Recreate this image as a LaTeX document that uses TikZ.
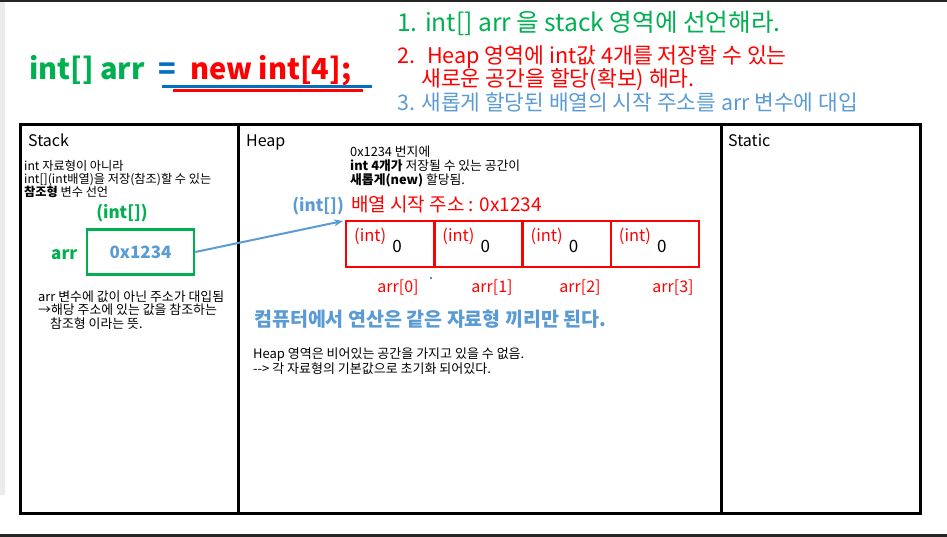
\documentclass[tikz,border=0pt]{standalone}
\usepackage{fontspec}
\setmainfont{Noto Sans CJK KR}
\usetikzlibrary{arrows.meta,positioning}
\definecolor{jgreen}{HTML}{00B050}
\definecolor{jred}{HTML}{FF0000}
\definecolor{jblue}{HTML}{0070C0}
\definecolor{jsky}{HTML}{5B9BD5}

\begin{document}
\begin{tikzpicture}[x=1pt, y=-1pt,
  >={Stealth[length=9pt,width=7pt]},
  txt/.style={inner sep=0pt, anchor=base west, align=left},
  tiny/.style={txt, font=\fontsize{12.8}{14}\selectfont},
  head/.style={txt, font=\fontsize{16}{19}\selectfont},
  area/.style={draw=black, line width=3pt},
  cell/.style={draw=jred, line width=2.5pt, minimum width=88.25pt,
               minimum height=46pt, inner sep=0pt, outer sep=0pt}]

%% lienzo fijo, igual que la captura
\useasboundingbox (0,0) rectangle (947,537);
\fill[black!8] (0,0) rectangle (5,495);
\fill[black!85] (0,0) rectangle (947,2.5);
\fill[black!85] (0,533.5) rectangle (947,537);

%% ---- la sentencia ----
%% ojo: en los nodos de varias líneas el `base' es la última línea
\node[txt, font=\fontsize{29}{30}\selectfont\bfseries, text=jgreen] (decl) at (29,80) {int[] arr};
\node[txt, font=\fontsize{29}{30}\selectfont\bfseries, text=jblue] (eq) at (158,80) {=};
\node[txt, font=\fontsize{29}{30}\selectfont\bfseries, text=jred] (alloc) at (190,80) {new int[4];};
\draw[jblue, line width=3pt] (162,87) -- (372,87);
\draw[jred, line width=3pt] (173,91) -- (363,91);

%% ---- los tres pasos ----
\node[txt, font=\fontsize{24.6}{26}\selectfont, text=jgreen] (step1) at (397,32)
  {1. int[] arr 을 stack 영역에 선언해라.};
\node[txt, font=\fontsize{21.6}{23.5}\selectfont, text=jred] (step2) at (397,87)
  {2.\hspace{12pt}Heap 영역에 int값 4개를 저장할 수 있는\\
   \hspace{24pt}새로운 공간을 할당(확보) 해라.};
\node[txt, font=\fontsize{21.4}{23}\selectfont, text=jsky] (step3) at (397,111)
  {3. 새롭게 할당된 배열의 시작 주소를 arr 변수에 대입};

%% ---- las tres zonas de memoria ----
\draw[area] (20,125) rectangle (920,513);
\draw[area] (238,125) -- (238,513);
\draw[area] (721,125) -- (721,513);
\node[head] (stack) at (28,147) {Stack};
\node[head] (heap) at (246,147) {Heap};
\node[head] (static) at (728,147) {Static};

%% ---- stack ----
\node[tiny, font=\fontsize{12.2}{13}\selectfont] (snote) at (24,197)
  {int 자료형이 아니라\\ int[](int배열)을 저장(참조)할 수 있는\\ \textbf{참조형} 변수 선언};
\node[txt, anchor=base, font=\fontsize{17}{20}\selectfont\bfseries, text=jgreen] (stype) at (122,219) {(int[])};
\node[draw=jgreen, line width=2.5pt, minimum width=107pt, minimum height=45pt,
      font=\fontsize{17}{20}\selectfont\bfseries, text=jsky] (ptr) at (140.5,252) {0x1234};
\node[txt, font=\fontsize{17}{20}\selectfont\bfseries, text=jgreen] (sname) at (51,259) {arr};
\node[tiny, font=\fontsize{12.9}{13.5}\selectfont] (sref) at (38,328)
  {arr 변수에 값이 아닌 주소가 대입됨\\ →해당 주소에 있는 값을 참조하는\\ \hspace{12pt}참조형 이라는 뜻.};

%% ---- heap ----
\node[tiny] (hnote) at (350,185)
  {0x1234 번지에\\ \textbf{int 4개가} 저장될 수 있는 공간이\\ \textbf{새롭게(new)} 할당됨.};
\node[txt, anchor=base east, font=\fontsize{17}{20}\selectfont\bfseries, text=jsky] (htype) at (344,212) {(int[])};
\node[txt, font=\fontsize{19}{22}\selectfont, text=jred] (haddr) at (351,212) {배열 시작 주소 : 0x1234};

\foreach \i in {0,...,3} {
  \node[cell, anchor=north west] (c\i) at ({346+88.25*\i},221) {};
  \node[txt, font=\fontsize{16.5}{18}\selectfont, text=jred] (ci\i) at ({354+88.25*\i},242) {(int)};
  \node[txt, anchor=base, font=\fontsize{17}{20}\selectfont] (cv\i) at ({397+88.25*\i},253) {0};
}
\foreach \i/\x in {0/398,1/492,2/580,3/673}
  \node[txt, anchor=base, font=\fontsize{16}{19}\selectfont, text=jred] (ix\i) at (\x,292) {arr[\i]};
\fill[jblue] (431,278) circle (1.2pt);

\draw[->, jsky, line width=2pt] (ptr.east) -- ([xshift=-3pt]c0.north west);

\node[txt, font=\fontsize{19.5}{22}\selectfont\bfseries, text=jsky] (rule) at (254,326)
  {컴퓨터에서 연산은 같은 자료형 끼리만 된다.};
\node[tiny, font=\fontsize{13}{15}\selectfont] (hinit) at (253,373)
  {Heap 영역은 비어있는 공간을 가지고 있을 수 없음.\\ -{}-{}> 각 자료형의 기본값으로 초기화 되어있다.};

\end{tikzpicture}
\end{document}
